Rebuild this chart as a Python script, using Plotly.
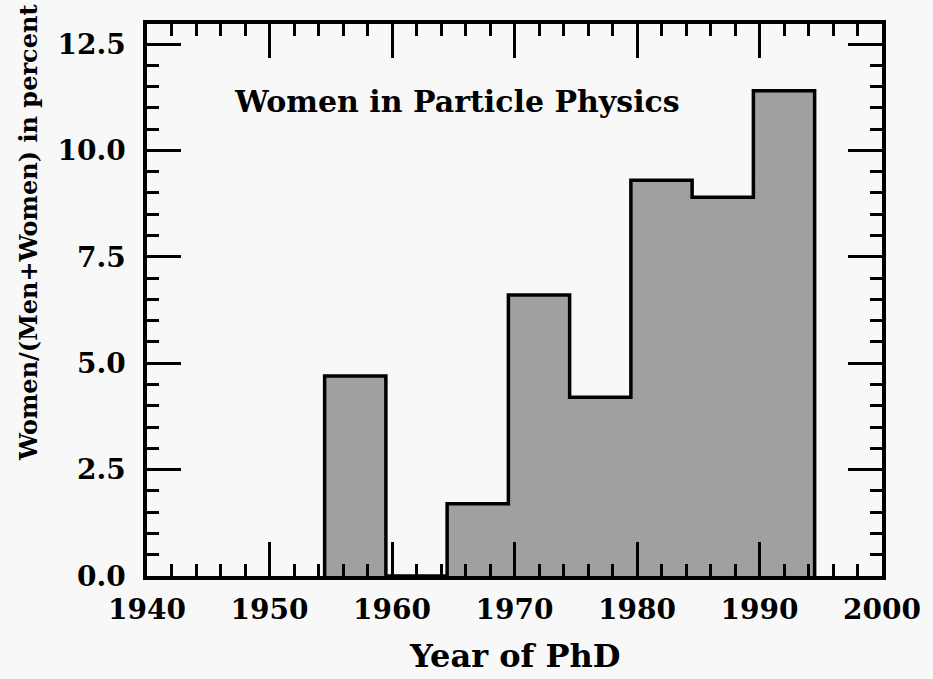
import plotly.graph_objects as go

# Histogram bins: 5-year bins of PhD year, left edges
bin_starts = [1954.5, 1959.5, 1964.5, 1969.5, 1974.5, 1979.5, 1984.5, 1989.5]
bin_width = 5
women_pct = [4.7, 0.0, 1.7, 6.6, 4.2, 9.3, 8.9, 11.4]

x_ticks = [1940, 1950, 1960, 1970, 1980, 1990, 2000]
y_ticks = [0.0, 2.5, 5.0, 7.5, 10.0, 12.5]

FONT = "DejaVu Serif"
BG = "#f8f8f8"

# step outline of the histogram (hv shape), closed down to zero at both ends
step_x = [bin_starts[0]] + bin_starts + [bin_starts[-1] + bin_width]
step_y = [0] + women_pct + [0]

fig = go.Figure()
fig.add_trace(
    go.Scatter(
        x=step_x,
        y=step_y,
        mode="lines",
        line=dict(shape="hv", color="black", width=3.5),
        fill="tozeroy",
        fillcolor="#a0a0a0",
        hoverinfo="skip",
        showlegend=False,
    )
)

axis_common = dict(
    showgrid=False,
    zeroline=False,
    showline=True,
    linecolor="black",
    linewidth=3.5,
    mirror="allticks",
    ticks="inside",
    tickcolor="black",
    tickwidth=3,
    ticklen=34,
    tickfont=dict(family=FONT, size=28, color="black", weight="bold"),
)

fig.update_xaxes(
    range=[1940, 2000],
    tickvals=x_ticks,
    ticktext=[str(v) for v in x_ticks],
    minor=dict(ticks="inside", dtick=2, ticklen=12, tickwidth=3, tickcolor="black"),
    ticklabelstandoff=6,
    **axis_common,
)
fig.update_yaxes(
    range=[0, 12.97],
    tickvals=y_ticks,
    ticktext=[f"{v:.1f}" for v in y_ticks],
    minor=dict(ticks="inside", dtick=0.5, ticklen=12, tickwidth=3, tickcolor="black"),
    ticklabelstandoff=12,
    **axis_common,
)

fig.add_annotation(
    x=1965.3, y=11.14, xref="x", yref="y",
    text="Women in Particle Physics",
    showarrow=False,
    font=dict(family=FONT, size=30, color="black", weight="bold"),
)
fig.add_annotation(
    x=0.5, y=-0.145, xref="paper", yref="paper",
    xanchor="center", yanchor="middle",
    text="Year of PhD",
    showarrow=False,
    font=dict(family=FONT, size=32, color="black", weight="bold"),
)
fig.add_annotation(
    x=-0.162, y=0.623, xref="paper", yref="paper",
    xanchor="center", yanchor="middle",
    text="Women/(Men+Women) in percent",
    textangle=-90,
    showarrow=False,
    font=dict(family=FONT, size=24, color="black", weight="bold"),
)

fig.update_layout(
    width=933,
    height=679,
    margin=dict(l=147, r=46, t=24, b=103),
    paper_bgcolor=BG,
    plot_bgcolor=BG,
)

# drop the default page margin so the figure sits at the window's corner
fig.write_html(
    "out.html",
    config={"displayModeBar": False},
    post_script="document.body.style.margin = '0';",
)
